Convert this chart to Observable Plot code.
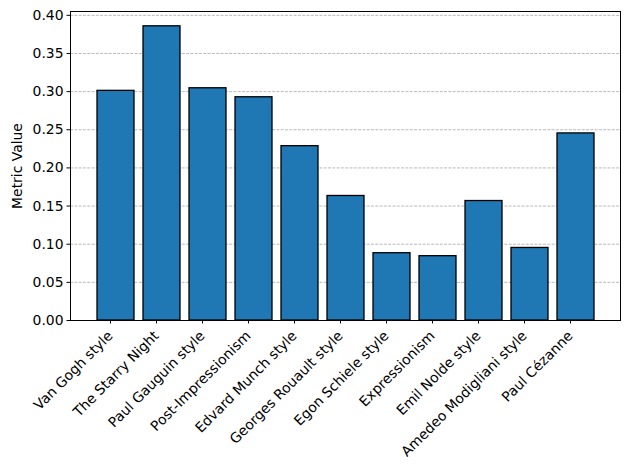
<!DOCTYPE html>
<html>
<head>
<meta charset="utf-8">
<script src="https://cdn.jsdelivr.net/npm/d3@7"></script>
<script src="https://cdn.jsdelivr.net/npm/@observablehq/plot@0.6"></script>
<style>
  html, body { margin: 0; padding: 0; background: #fff; }
  svg { font-family: "DejaVu Sans", sans-serif; }
</style>
</head>
<body>
<div id="chart"></div>
<script>
const categories = [
  "Van Gogh style", "The Starry Night", "Paul Gauguin style", "Post-Impressionism",
  "Edvard Munch style", "Georges Rouault style", "Egon Schiele style", "Expressionism",
  "Emil Nolde style", "Amedeo Modigliani style", "Paul Cézanne"
];
const values = [0.301, 0.3856, 0.3044, 0.2926, 0.2285, 0.1632, 0.0882, 0.0843, 0.1566, 0.0951, 0.2452];
const yTicks = [0, 0.05, 0.10, 0.15, 0.20, 0.25, 0.30, 0.35, 0.40];
const yLabel = "Metric Value";

const data = categories.map((c, i) => ({category: c, value: values[i]}));

const chart = Plot.plot({
  width: 630,
  height: 470,
  marginLeft: 70,
  marginRight: 10,
  marginTop: 11,
  marginBottom: 150,
  style: {fontFamily: "DejaVu Sans, sans-serif", fontSize: "13.9px", color: "black", background: "white"},
  x: {domain: categories, paddingInner: 0.2, paddingOuter: 0.54},
  y: {domain: [0, 0.405]},
  marks: [
    Plot.gridY(yTicks, {stroke: "#a8a8a8", strokeOpacity: 1, strokeWidth: 0.8, strokeDasharray: "3,1.3"}),
    Plot.barY(data, {x: "category", y: "value", fill: "#1f77b4", stroke: "black", strokeWidth: 1.3}),
    Plot.frame({stroke: "black", strokeWidth: 1}),
    Plot.axisY(yTicks, {
      tickFormat: d3.format(".2f"), tickSize: 3.5, tickPadding: 3.5, strokeWidth: 1,
      label: yLabel, labelAnchor: "center", labelArrow: "none", labelOffset: 58
    }),
    Plot.axisX({
      tickSize: 3.5, tickPadding: 9.5, dx: -5.5, tickRotate: -45, label: null, textAnchor: "end"
    })
  ]
});
document.getElementById("chart").appendChild(chart);
</script>
</body>
</html>
